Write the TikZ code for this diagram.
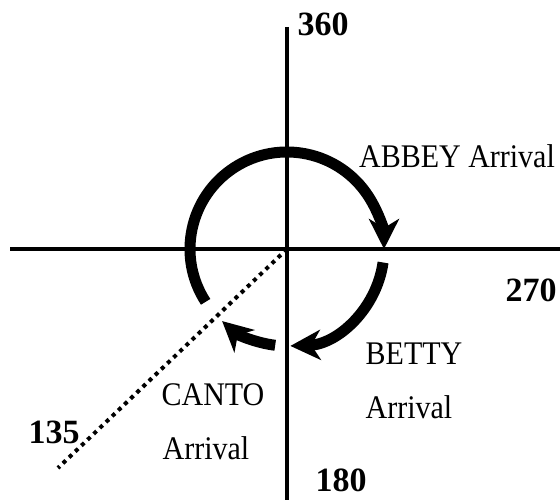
\documentclass[tikz,border=0pt]{standalone}
\usepackage{fontspec}
\usepackage{graphicx}
\setmainfont{Liberation Serif}
\usetikzlibrary{arrows.meta,calc}
\newcommand{\vstr}[1]{\scalebox{1}[1.1]{#1}}
\begin{document}
\begin{tikzpicture}[x=1pt,y=1pt,
  axis/.style={line width=3.3pt},
  flow/.style={line width=11pt,-{Stealth[length=30pt,width=30pt,inset=9pt]}},
  lbl/.style={inner sep=0pt,font=\fontsize{30}{36}\selectfont},
  num/.style={inner sep=0pt,font=\fontsize{34}{40}\selectfont\bfseries},
  dots/.style={line width=4pt,dash pattern=on 4pt off 4.5pt}]
\useasboundingbox (0,0) rectangle (560,500);
\coordinate (O) at (287,251);
\coordinate (top) at (287,473);
\coordinate (bot) at (287,0);
\coordinate (left) at (10,251);
\coordinate (right) at (560,251);
\coordinate (sw) at (58,32);
% axes
\draw[axis] (top) -- (bot);
\draw[axis] (left) -- (right);
% dotted 135 line
\draw[dots] (O) -- (sw);
% arrows on circle
\draw[flow] ($(O)+(213:97)$) arc[start angle=213, end angle=0, radius=97];
\draw[flow] ($(O)+(-8:97)$) arc[start angle=-8, end angle=-88, radius=97];
\draw[flow] ($(O)+(-97:97)$) arc[start angle=-97, end angle=-132, radius=97];
% labels
\node[num] (n360) at (323,476) {360};
\node[num] (n270) at (531,210) {270};
\node[num] (n180) at (341,20) {180};
\node[num] (n135) at (54,68) {135};
\node[lbl] (abbey) at (457,344) {\vstr{ABBEY Arrival}};
\node[lbl] (betty) at (414,146) {\vstr{BETTY}};
\node[lbl] (bettyarr) at (409,93) {\vstr{Arrival}};
\node[lbl] (canto) at (213,105) {\vstr{CANTO}};
\node[lbl] (cantoarr) at (206,52) {\vstr{Arrival}};
\end{tikzpicture}
\end{document}
